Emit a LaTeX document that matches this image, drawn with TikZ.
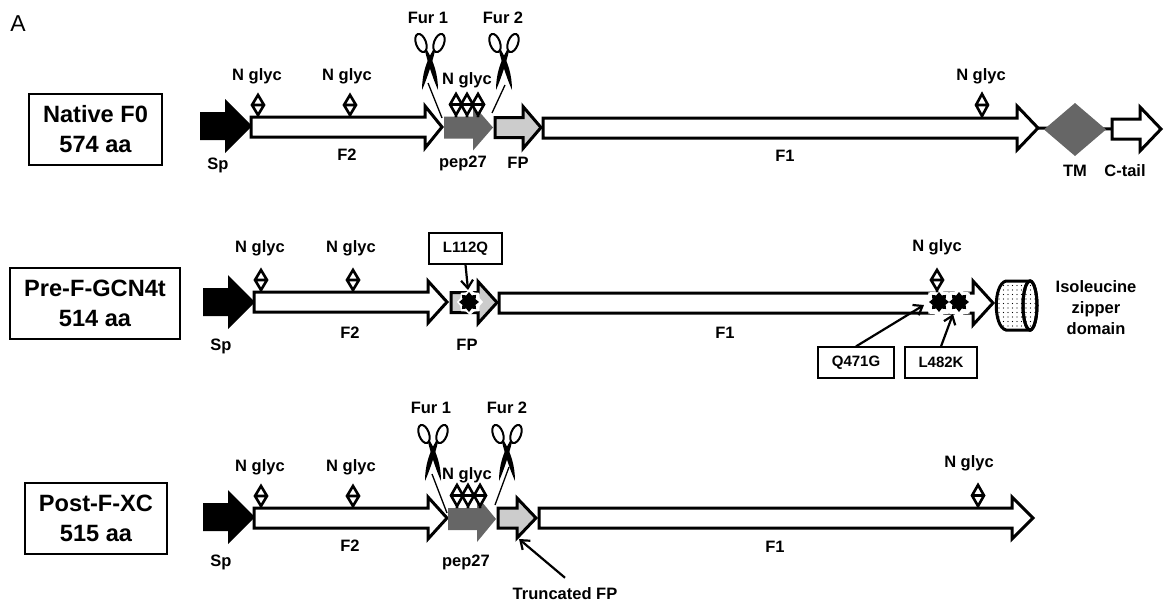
\documentclass[tikz,border=0pt]{standalone}
\usepackage{fontspec}
\setmainfont{Liberation Sans}
\usetikzlibrary{arrows.meta,shapes.geometric,patterns.meta}
\definecolor{darkgray}{gray}{0.40}
\definecolor{lightgray}{gray}{0.80}
\tikzset{
  lab/.style={font=\fontsize{16.5}{19}\selectfont\bfseries,inner sep=0pt,align=center},
  titlebox/.style={draw,line width=1.6pt,font=\fontsize{23.6}{30}\selectfont\bfseries,align=center,inner sep=0pt},
  mutbox/.style={draw,line width=1.2pt,font=\fontsize{15}{17}\selectfont\bfseries,inner sep=0pt},
  block/.style={draw=black,line width=3pt,fill=white,miter limit=6},
  blackblock/.style={fill=black},
  pepblock/.style={fill=darkgray},
  fpblock/.style={draw=black,line width=3pt,fill=lightgray,miter limit=6},
  pin/.style={draw=black,line width=2.6pt,fill=white,line join=miter},
  thinline/.style={draw=black,line width=1.3pt},
  pointer/.style={draw=black,line width=2.2pt,-{Straight Barb[length=8pt,width=12pt,line width=2.2pt]}},
  blackstar/.style={star,star points=8,star point ratio=1.4,fill=black,inner sep=0pt,minimum size=20pt},
  whitestar/.style={star,star points=8,star point ratio=1.25,fill=white,inner sep=0pt,minimum size=26pt},
}
\newcommand{\blockarrow}[7]{\path[#1] (#2,#5-#6) -- (#4,#5-#6) -- (#4,#5-#7) -- (#3,#5) -- (#4,#5+#7) -- (#4,#5+#6) -- (#2,#5+#6) -- cycle;}
\newcommand{\glycpin}[3]{\path[pin] (#1,#2) -- (#1+6,{(#2+#3)/2}) -- (#1,#3) -- (#1-6,{(#2+#3)/2}) -- cycle (#1-6,{(#2+#3)/2}) -- (#1+6,{(#2+#3)/2}) (#1,#3) -- (#1,#3+2);}
\newcommand{\scissorsat}[2]{
\begin{scope}[shift={(#1,#2)}]
  \draw[line width=2pt,rotate around={20:(-9,-12)}] (-9,-12) ellipse [x radius=5,y radius=9.5];
  \draw[line width=2pt,rotate around={-20:(9,-12)}] (9,-12) ellipse [x radius=5,y radius=9.5];
  \fill (-5,-4) -- (-3,-5) .. controls (4,7) and (8,20) .. (8,35) .. controls (4,26) and (-1,12) .. (-5,-4) -- cycle;
  \fill (5,-4) -- (3,-5) .. controls (-4,7) and (-8,20) .. (-8,35) .. controls (-4,26) and (1,12) .. (5,-4) -- cycle;
\end{scope}}
\begin{document}
\begin{tikzpicture}[x=1pt,y=-1pt]
\useasboundingbox (0,0) rectangle (1164,605);
\node[font=\fontsize{23}{25}\selectfont,inner sep=0pt] (panel) at (18,24) {A};

% ---------- row 1
\node[titlebox,minimum width=133pt,minimum height=71pt] (native) at (95.5,129.5) {Native F0\\574 aa};
\coordinate (tmL) at (1038,128); \coordinate (tmC) at (1111,129);
\draw[line width=3pt] (tmL) -- (tmC);
\blockarrow{blackblock}{200}{252}{225}{126}{14}{27}
\blockarrow{block}{251}{442}{425}{127}{10}{21}
\blockarrow{pepblock}{444}{493}{473}{127.5}{11}{23}
\blockarrow{fpblock}{495}{541}{523}{127.5}{10}{21}
\blockarrow{block}{543}{1038}{1017}{128}{10}{22}
\path[fill=darkgray] (1044,129.5) -- (1075,103) -- (1106,129.5) -- (1075,156) -- cycle;
\blockarrow{block}{1112}{1161}{1140}{129}{10}{22}
\glycpin{258}{95}{115}\glycpin{350}{95}{115}
\glycpin{456}{94}{115}\glycpin{467}{94}{115}\glycpin{478}{94}{115}\glycpin{982}{94}{116}
\scissorsat{430}{55}\scissorsat{504}{55}
\coordinate (cutA1) at (428,83); \coordinate (cutA2) at (442,118);
\coordinate (cutB1) at (505,85); \coordinate (cutB2) at (492,113);
\draw[thinline] (cutA1) -- (cutA2); \draw[thinline] (cutB1) -- (cutB2);
\node[lab] (a1) at (257,76) {N glyc};
\node[lab] (a2) at (347,76) {N glyc};
\node[lab] (a3) at (467,80) {N glyc};
\node[lab] (a4) at (981,76) {N glyc};
\node[lab] (a5) at (428,18) {Fur 1};
\node[lab] (a6) at (503,18) {Fur 2};
\node[lab] (a7) at (218,165) {Sp};
\node[lab] (a8) at (347,155) {F2};
\node[lab] (a9) at (463,163) {pep27};
\node[lab] (a10) at (518,163) {FP};
\node[lab] (a11) at (785,156) {F1};
\node[lab] (a12) at (1075,171) {TM};
\node[lab] (a13) at (1125,171) {C-tail};

% ---------- row 2
\node[titlebox,minimum width=170pt,minimum height=71pt] (pre) at (95,303.5) {Pre-F-GCN4t\\514 aa};
\blockarrow{blackblock}{203}{255}{228}{302}{14}{27}
\blockarrow{block}{254}{447}{428}{302}{10}{21}
\blockarrow{fpblock}{451}{497}{478}{302.5}{10}{21}
\blockarrow{block}{499}{993}{973}{303}{10}{22}
\node[whitestar] (ws1) at (470,302) {};
\node[blackstar] (bs1) at (469,302) {};
\node[whitestar,minimum size=30pt] (ws2) at (939,303) {};
\node[whitestar,minimum size=30pt] (ws3) at (959,303) {};
\node[blackstar] (bs2) at (939,302) {};
\node[blackstar] (bs3) at (959,302) {};
\glycpin{261}{270}{290}\glycpin{353}{270}{290}\glycpin{937}{270}{290}
\draw[line width=3pt,pattern={Dots[distance=4.5pt,radius=0.55pt]}] (1030,281) -- (1006,281) .. controls (993,284) and (993,327) .. (1006,330) -- (1030,330) -- cycle;
\draw[line width=3pt,fill=white] (1030,305.5) ellipse [x radius=7,y radius=24.5];
\draw[line width=3pt,pattern={Dots[distance=4.5pt,radius=0.55pt]}] (1030,305.5) ellipse [x radius=7,y radius=24.5];
\node[mutbox,minimum width=73pt,minimum height=31pt] (l112q) at (465.5,248.5) {L112Q};
\node[mutbox,minimum width=76pt,minimum height=31pt] (q471g) at (856,362.5) {Q471G};
\node[mutbox,minimum width=72pt,minimum height=31pt] (l482k) at (941,362.5) {L482K};
\coordinate (p1) at (468,290); \coordinate (p2) at (924,305); \coordinate (p3) at (953,314);
\draw[pointer] (l112q.south) -- (p1);
\draw[pointer] (q471g.north) -- (p2);
\draw[pointer] (l482k.north) -- (p3);
\node[lab] (b1) at (260,248) {N glyc};
\node[lab] (b2) at (351,248) {N glyc};
\node[lab] (b3) at (937,247) {N glyc};
\node[lab] (b4) at (221,346) {Sp};
\node[lab] (b5) at (350,333) {F2};
\node[lab] (b6) at (467,345) {FP};
\node[lab] (b7) at (725,333) {F1};
\node[lab,font=\fontsize{16.5}{21}\selectfont\bfseries] (b8) at (1096,308) {Isoleucine\\zipper\\domain};

% ---------- row 3
\node[titlebox,minimum width=142pt,minimum height=71pt] (post) at (96,518.5) {Post-F-XC\\515 aa};
\blockarrow{blackblock}{203}{255}{228}{517}{14}{27}
\blockarrow{block}{254}{447}{428}{518}{10}{21}
\blockarrow{pepblock}{448}{496}{477}{519}{11}{23}
\blockarrow{fpblock}{498}{536}{517}{518}{10}{20}
\blockarrow{block}{539}{1033}{1012}{518}{10}{21}
\glycpin{261}{486}{506}\glycpin{353}{486}{506}
\glycpin{457}{485}{506}\glycpin{468}{485}{506}\glycpin{480}{485}{506}\glycpin{978}{485}{506}
\scissorsat{433}{446}\scissorsat{507}{446}
\coordinate (cutC1) at (432,474); \coordinate (cutC2) at (447,513);
\coordinate (cutD1) at (509,467); \coordinate (cutD2) at (495,505);
\draw[thinline] (cutC1) -- (cutC2); \draw[thinline] (cutD1) -- (cutD2);
\node[lab] (c1) at (260,467) {N glyc};
\node[lab] (c2) at (351,467) {N glyc};
\node[lab] (c3) at (467,475) {N glyc};
\node[lab] (c4) at (969,463) {N glyc};
\node[lab] (c5) at (431,408) {Fur 1};
\node[lab] (c6) at (507,408) {Fur 2};
\node[lab] (c7) at (221,562) {Sp};
\node[lab] (c8) at (350,546) {F2};
\node[lab] (c9) at (466,562) {pep27};
\node[lab] (c10) at (775,547) {F1};
\node[lab] (trunc) at (565,594) {Truncated FP};
\coordinate (p4) at (519,539);
\draw[pointer] ([yshift=10pt]trunc.north) -- (p4);
\end{tikzpicture}
\end{document}
